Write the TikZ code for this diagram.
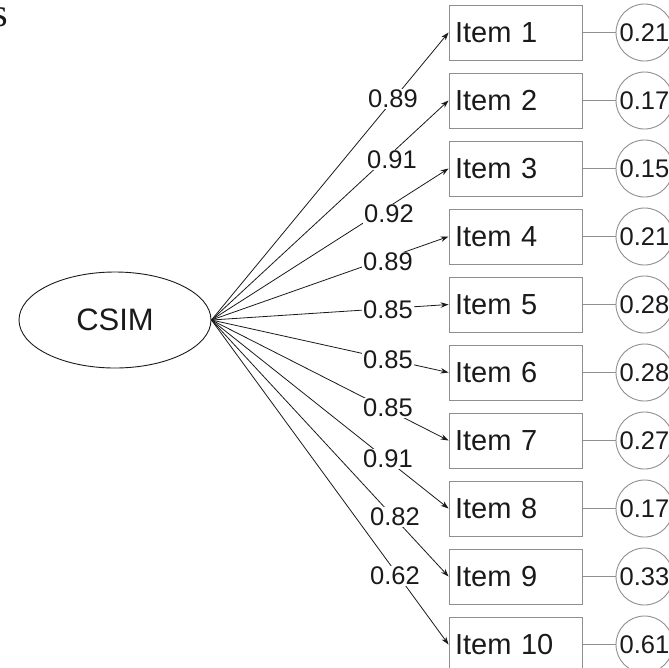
\documentclass[tikz,border=0pt]{standalone}
\usepackage{fontspec}
\setmainfont{Liberation Sans}
\newfontfamily\seriffont{Liberation Serif}
\usetikzlibrary{arrows.meta,shapes.geometric}
\definecolor{boxgray}{HTML}{8F8F8F}
\definecolor{ink}{HTML}{1A1A1A}
\begin{document}
\begin{tikzpicture}[x=1pt,y=-1pt,
  itembox/.style={draw=boxgray, line width=0.9pt, rectangle, text width=121pt, align=left,
    inner xsep=6pt, inner ysep=0pt, minimum height=55pt, text=ink,
    font=\fontsize{29}{31}\selectfont},
  errcirc/.style={draw=boxgray, line width=0.9pt, circle, minimum size=57pt, inner sep=0pt,
    text=ink, font=\fontsize{25.5}{27}\selectfont},
  latent/.style={draw=ink, line width=0.9pt, ellipse, minimum width=192pt, minimum height=96pt,
    inner sep=0pt, text=ink, font=\fontsize{31}{33}\selectfont},
  load/.style={draw=ink, line width=0.8pt, -{Stealth[length=8pt,width=5.5pt]}},
  lab/.style={fill=white, inner sep=1pt, text=ink, font=\fontsize{25.5}{27}\selectfont},
  errline/.style={draw=boxgray, line width=0.9pt}
]
\useasboundingbox (0,0) rectangle (669,667);
\node[font=\seriffont\fontsize{40}{40}\selectfont, anchor=base east, inner sep=0pt, text=ink] (frag) at (8,26) {s};
\node[latent] (csim) at (115,320) {CSIM};
\foreach \k/\err in {1/0.21,2/0.17,3/0.15,4/0.21,5/0.28,6/0.28,7/0.27,8/0.17,9/0.33,10/0.61}{
  \pgfmathsetmacro{\yy}{32.5+68*(\k-1)}
  \node[itembox] (i\k) at (515.5,\yy) {Item \k};
  \node[errcirc] (e\k) at (644.5,\yy) {\err};
  \draw[errline] (i\k.east) -- (e\k.west);
  \draw[load] (csim.east) -- (i\k.west);
}
\foreach \k/\lbl/\lx/\ly in {1/0.89/393/99,2/0.91/392/160,3/0.92/389/214,4/0.89/388/262,5/0.85/388/310,6/0.85/388/360,7/0.85/388/408,8/0.91/388/459,9/0.82/395/517,10/0.62/395/576}{
  \node[lab] (l\k) at (\lx,\ly) {\lbl};
}
\end{tikzpicture}
\end{document}
